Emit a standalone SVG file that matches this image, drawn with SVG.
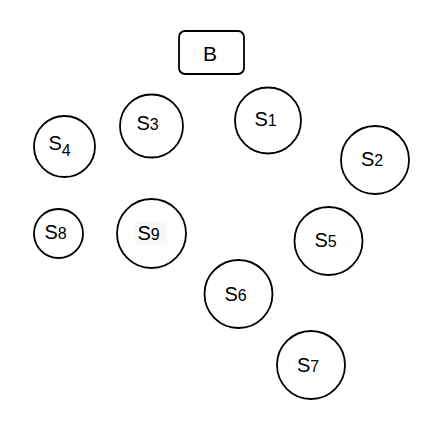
<svg xmlns="http://www.w3.org/2000/svg" width="424" height="440" viewBox="0 0 424 440">
<style>
.n{fill:#fff;stroke:#000;stroke-width:1.8}
text{font-family:"Liberation Sans",Arial,sans-serif;fill:#000}
.l{font-size:20px}
.d{font-size:16px}
.b{font-size:21px}
</style>
<rect width="424" height="440" fill="#fff"/>
<g id="connectors"></g>
<g id="B"><rect class="n" x="179" y="31" width="65" height="43" rx="6"/><text class="b" x="210" y="61" text-anchor="middle">B</text></g>
<g id="S1"><circle class="n" cx="268" cy="120.5" r="33"/><text class="l" x="254.5" y="125.5">S<tspan class="d">1</tspan></text></g>
<g id="S2"><circle class="n" cx="375" cy="160" r="34"/><text class="l" x="361" y="166">S<tspan class="d">2</tspan></text></g>
<g id="S3"><circle class="n" cx="151.5" cy="126" r="31.5"/><text class="l" x="136.5" y="129.5">S<tspan class="d">3</tspan></text></g>
<g id="S4"><circle class="n" cx="64.5" cy="146.5" r="30.5"/><text class="l" x="48.5" y="149.5">S<tspan class="d" dy="6">4</tspan></text></g>
<g id="S5"><circle class="n" cx="328.5" cy="241" r="34"/><text class="l" x="314.5" y="247">S<tspan class="d">5</tspan></text></g>
<g id="S6"><circle class="n" cx="238.5" cy="294" r="34"/><text class="l" x="224.5" y="300.5">S<tspan class="d">6</tspan></text></g>
<g id="S7"><circle class="n" cx="311" cy="365" r="34"/><text class="l" x="297" y="371.5">S<tspan class="d">7</tspan></text></g>
<g id="S8"><circle class="n" cx="58.5" cy="233.5" r="24.5"/><text class="l" x="44.5" y="238.5">S<tspan class="d">8</tspan></text></g>
<g id="S9"><circle class="n" cx="151.5" cy="233.5" r="34.5"/><rect x="135" y="221" width="32" height="24" fill="#f8f8f8"/><text class="l" x="137.5" y="239.5">S<tspan class="d">9</tspan></text></g>
</svg>
